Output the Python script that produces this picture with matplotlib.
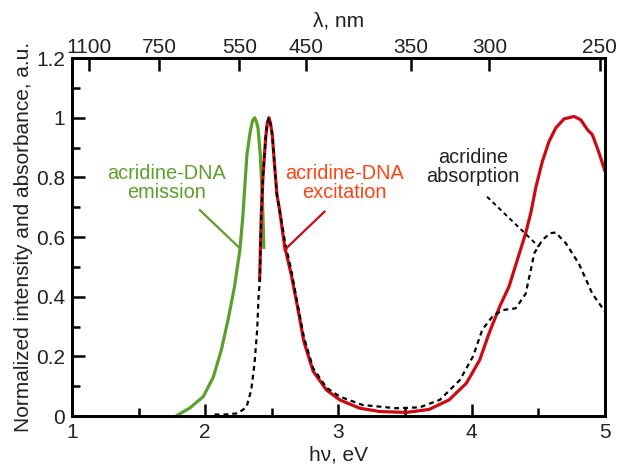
import matplotlib
matplotlib.use('Agg')
import matplotlib.pyplot as plt
from matplotlib.ticker import MultipleLocator, FixedLocator

plt.rcParams['font.family'] = ['Liberation Sans', 'DejaVu Sans']

# acridine-DNA emission (green)
em_ev = [1.78, 1.885, 1.985, 2.06, 2.12, 2.17, 2.22, 2.26, 2.283, 2.296, 2.313, 2.338,
         2.355, 2.371, 2.385, 2.396, 2.413, 2.425, 2.433, 2.44]
em_int = [0.0, 0.027, 0.065, 0.13, 0.22, 0.32, 0.434, 0.557, 0.674, 0.764, 0.876, 0.954,
          0.99, 1.0, 0.985, 0.965, 0.876, 0.764, 0.674, 0.56]

# acridine-DNA excitation (red)
ex_ev = [2.408, 2.42, 2.433, 2.453, 2.465, 2.478, 2.49, 2.503, 2.52, 2.538, 2.558, 2.596,
         2.645, 2.695, 2.74, 2.81, 2.91, 3.01, 3.16, 3.31, 3.51, 3.68, 3.83, 3.96,
         4.06, 4.13, 4.21, 4.28, 4.34, 4.405, 4.443, 4.48, 4.53, 4.58, 4.63, 4.693,
         4.768, 4.818, 4.868, 4.905, 4.943, 4.968, 5.0]
ex_int = [0.45, 0.67, 0.80, 0.93, 0.98, 1.0, 0.98, 0.943, 0.842, 0.742, 0.69, 0.568,
          0.475, 0.36, 0.25, 0.15, 0.087, 0.054, 0.026, 0.015, 0.012, 0.022, 0.054, 0.11,
          0.188, 0.277, 0.367, 0.434, 0.52, 0.613, 0.68, 0.764, 0.853, 0.92, 0.965, 0.996,
          1.004, 0.993, 0.96, 0.943, 0.898, 0.865, 0.82]

# acridine absorption (black dashed)
ab_ev = [2.07, 2.15, 2.245, 2.31, 2.345, 2.37, 2.39, 2.40, 2.41, 2.42, 2.433, 2.453,
         2.465, 2.478, 2.49, 2.503, 2.52, 2.538, 2.558, 2.60, 2.645, 2.695, 2.74, 2.81,
         2.91, 3.01, 3.18, 3.43, 3.61, 3.76, 3.91, 4.01, 4.08, 4.155, 4.23, 4.33,
         4.405, 4.47, 4.53, 4.59, 4.63, 4.705, 4.805, 4.905, 5.0]
ab_int = [0.005, 0.005, 0.009, 0.03, 0.087, 0.177, 0.29, 0.40, 0.456, 0.67, 0.80, 0.93,
          0.98, 1.0, 0.98, 0.943, 0.842, 0.742, 0.69, 0.58, 0.49, 0.37, 0.265, 0.16,
          0.095, 0.065, 0.037, 0.026, 0.029, 0.054, 0.12, 0.2, 0.29, 0.333, 0.355, 0.361,
          0.41, 0.546, 0.59, 0.613, 0.615, 0.58, 0.51, 0.41, 0.35]

# wavelength ticks on top axis
wl_ticks = [1100, 750, 550, 450, 350, 300, 250]

green = '#5ca02c'
red = '#cc0a14'
red_txt = '#ff4315'
txt = '#222222'
fs = 15
fs_note = 14.3

fig = plt.figure(figsize=(6.17, 4.67), dpi=100)
ax = fig.add_axes([0.1167, 0.1092, 0.8638, 0.7666])

ax.plot(em_ev, em_int, color=green, lw=2.3, solid_capstyle='butt')
ax.plot(ex_ev, ex_int, color=red, lw=2.3, solid_capstyle='butt')
ax.plot(ab_ev, ab_int, color='black', lw=1.6, linestyle=(0, (2.2, 1.8)))

# annotations
ax.text(1.71, 0.78, 'acridine-DNA\nemission', color=green, fontsize=fs_note,
        ha='center', va='center', linespacing=1.0)
ax.plot([1.96, 2.258], [0.69, 0.563], color=green, lw=1.6)
ax.text(3.045, 0.78, 'acridine-DNA\nexcitation', color=red_txt, fontsize=fs_note,
        ha='center', va='center', linespacing=1.0)
ax.plot([2.895, 2.596], [0.685, 0.557], color=red, lw=1.6)
ax.text(4.01, 0.834, 'acridine\nabsorption', color=txt, fontsize=fs_note,
        ha='center', va='center', linespacing=1.0)
ax.plot([4.115, 4.505], [0.735, 0.567], color='black', lw=1.4, linestyle=(0, (2.2, 1.8)))

ax.set_xlim(1, 5)
ax.set_ylim(0, 1.2)
ax.xaxis.set_major_locator(MultipleLocator(1))
ax.xaxis.set_minor_locator(MultipleLocator(0.5))
ax.yaxis.set_major_locator(MultipleLocator(0.2))
ax.yaxis.set_minor_locator(MultipleLocator(0.1))
ax.yaxis.set_major_formatter(plt.FuncFormatter(lambda v, p: ('%.1f' % v).rstrip('0').rstrip('.')))
ax.tick_params(which='both', direction='in', width=1.8, labelsize=fs, colors='black',
               top=False, right=False, labelcolor=txt)
ax.tick_params(which='major', length=9, pad=5)
ax.tick_params(which='minor', length=5.5)
for s in ax.spines.values():
    s.set_linewidth(2.0)

ax.set_xlabel('hν, eV', fontsize=fs, labelpad=2.5, color=txt)
ax.set_ylabel('Normalized intensity and absorbance, a.u.', fontsize=fs, labelpad=2,
              color=txt)

top = ax.twiny()
top.set_xlim(1, 5)
top.xaxis.set_major_locator(FixedLocator([1240.0 / w for w in wl_ticks]))
top.set_xticklabels([str(w) for w in wl_ticks])
top.xaxis.set_minor_locator(FixedLocator([]))
top.tick_params(which='major', direction='in', length=9, width=1.8, labelsize=fs,
                labelcolor=txt, pad=1)
top.set_xlabel('λ, nm', fontsize=fs, labelpad=8, color=txt)
for s in top.spines.values():
    s.set_linewidth(2.0)

fig.savefig('out.png', dpi=100)
